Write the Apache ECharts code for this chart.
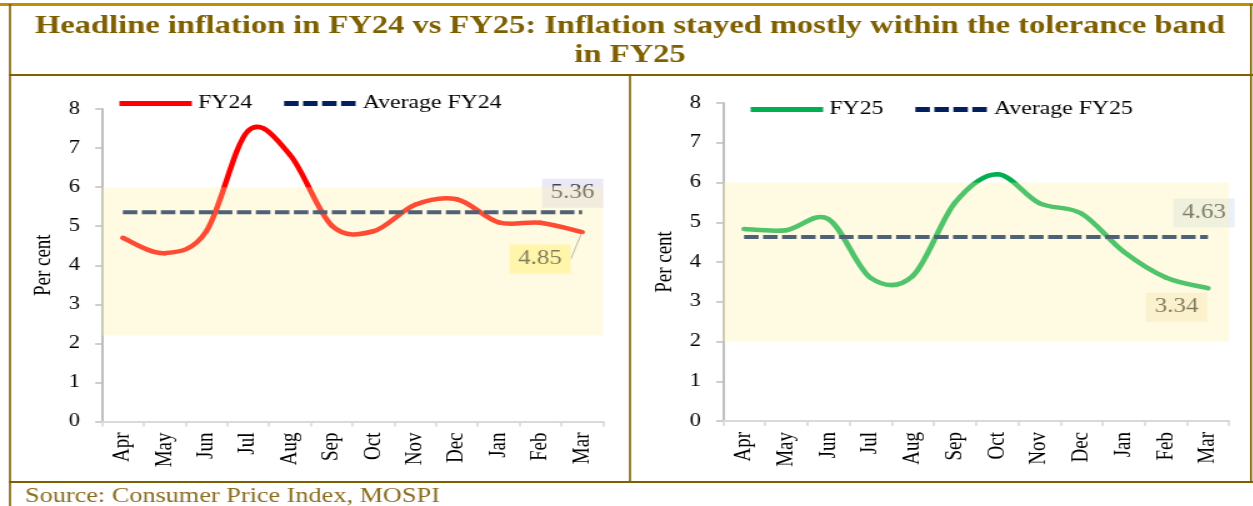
<!DOCTYPE html>
<html>
<head>
<meta charset="utf-8">
<script src="https://cdn.jsdelivr.net/npm/echarts@6.0.0/dist/echarts.min.js"></script>
<style>
  html, body { margin: 0; padding: 0; background: #fff; overflow: hidden; }
  /* the source picture is stretched sideways, so the chart is too */
  #chart { width: 1003px; height: 506px; transform: scaleX(1.25); transform-origin: 0 0; }
</style>
</head>
<body>
<div id="chart"></div>
<script>
const months = ['Apr', 'May', 'Jun', 'Jul', 'Aug', 'Sep', 'Oct', 'Nov', 'Dec', 'Jan', 'Feb', 'Mar'];
const fy24 = [4.70, 4.31, 4.87, 7.44, 6.83, 5.02, 4.87, 5.55, 5.69, 5.10, 5.09, 4.85];
const fy25 = [4.83, 4.80, 5.08, 3.60, 3.65, 5.49, 6.21, 5.48, 5.22, 4.26, 3.61, 3.34];
const avgFY24 = 5.36;
const avgFY25 = 4.63;
const bandFY24 = [2.2, 6];
const bandFY25 = [2, 6];
const yMin = 0, yMax = 8, yStep = 1;

const serif = '"Liberation Serif", "Times New Roman", serif';
const frame = '#7f6000';
const bandColor = 'rgba(255,242,164,0.31)';

const chart = echarts.init(document.getElementById('chart'));

// Excel-style smoothed line: bezier segments through the points, placed by api.coord
function smoothCurve(values, color) {
  return function (params, api) {
    if (params.dataIndex !== 0) return null;
    const n = values.length;
    const pts = values.map((v, k) => api.coord([k, v]));
    const segs = [];
    for (let k = 0; k < n - 1; k++) {
      const p0 = pts[Math.max(k - 1, 0)], p1 = pts[k], p2 = pts[k + 1], p3 = pts[Math.min(k + 2, n - 1)];
      segs.push({
        type: 'bezierCurve',
        shape: {
          x1: p1[0], y1: p1[1], x2: p2[0], y2: p2[1],
          cpx1: p1[0] + (p2[0] - p0[0]) / 6, cpy1: p1[1] + (p2[1] - p0[1]) / 6,
          cpx2: p2[0] - (p3[0] - p1[0]) / 6, cpy2: p2[1] - (p3[1] - p1[1]) / 6
        },
        style: { stroke: color, lineWidth: 4.5, fill: null, lineCap: 'round' }
      });
    }
    return { type: 'group', children: segs };
  };
}

function panel(i, name, values, avg, band, color, valLab, avgLab) {
  const last = months.length - 1;
  return [
    {
      // carries the legend entry and the band; the visible curve is the custom series
      name: name, type: 'line', xAxisIndex: i, yAxisIndex: i,
      data: values, symbol: 'none',
      lineStyle: { color: color, width: 4.5, opacity: 0 },
      itemStyle: { color: color },
      markArea: {
        silent: true, z: 10,
        itemStyle: { color: bandColor },
        data: [[{ yAxis: band[1] }, { yAxis: band[0] }]]
      }
    },
    {
      type: 'custom', xAxisIndex: i, yAxisIndex: i, silent: true,
      data: values.map((v, k) => [k, v]),
      renderItem: smoothCurve(values, color)
    },
    {
      name: 'Average ' + name, type: 'line', xAxisIndex: i, yAxisIndex: i,
      data: months.map(() => avg), symbol: 'none',
      lineStyle: { color: '#002060', width: 4, type: [11.6, 3.6] },
      itemStyle: { color: '#002060' }
    },
    {
      type: 'scatter', xAxisIndex: i, yAxisIndex: i, symbolSize: 0,
      data: [[months[last], avg]],
      label: {
        show: true, position: 'inside', formatter: avg.toFixed(2),
        fontFamily: serif, fontSize: 20, color: '#1a1a1a',
        backgroundColor: avgLab.bg, padding: [5, 7, 4, 7]
      },
      labelLayout: { dx: avgLab.dx, dy: avgLab.dy }
    },
    {
      type: 'scatter', xAxisIndex: i, yAxisIndex: i, symbolSize: 3,
      itemStyle: { color: color },
      data: [[months[last], values[last]]],
      label: {
        show: true, position: 'inside', formatter: values[last].toFixed(2),
        fontFamily: serif, fontSize: 20, color: '#1a1a1a',
        backgroundColor: valLab.bg, padding: [5, 7, 4, 7]
      },
      labelLayout: { dx: valLab.dx, dy: valLab.dy },
      labelLine: { show: valLab.leader, lineStyle: { color: '#a6a6a6', width: 1 } }
    }
  ];
}

function xAxis(i) {
  return {
    type: 'category', gridIndex: i, data: months, boundaryGap: true,
    axisLine: { lineStyle: { color: '#d9d9d9', width: 2 } },
    axisTick: { show: true, length: 5, lineStyle: { color: '#d9d9d9', width: 1.6 } },
    axisLabel: { interval: 0, rotate: 90, margin: 11, fontFamily: serif, fontSize: 19, color: '#000' },
    splitLine: { show: false }
  };
}

function yAxis(i) {
  return {
    type: 'value', gridIndex: i, min: yMin, max: yMax, interval: yStep,
    name: 'Per cent', nameLocation: 'middle', nameRotate: 90, nameGap: 37,
    nameTextStyle: { fontFamily: serif, fontSize: 19, color: '#000' },
    axisLine: { show: true, lineStyle: { color: '#bfbfbf', width: 2 } },
    axisTick: { show: true, length: 5.4, lineStyle: { color: '#bfbfbf', width: 1.5 } },
    axisLabel: { margin: 17.6, fontFamily: serif, fontSize: 18, color: '#000' },
    splitLine: { show: false }
  };
}

function legend(names, left, top) {
  return {
    data: names, left: left, top: top, orient: 'horizontal',
    itemWidth: 58, itemHeight: 14, itemGap: 23,
    textStyle: { fontFamily: serif, fontSize: 19, color: '#000' },
    lineStyle: { width: 5, opacity: 1 },
    itemStyle: { opacity: 0 },
    selectedMode: false
  };
}

function bar(x, y, w, h, fill) {
  return { type: 'rect', silent: true, shape: { x: x, y: y, width: w, height: h }, style: { fill: fill } };
}

const option = {
  animation: false,
  backgroundColor: '#fff',
  grid: [
    { left: 81.6, top: 109, width: 400.8, height: 312.5, outerBoundsMode: 'none' },
    { left: 578.4, top: 103, width: 404.8, height: 318, outerBoundsMode: 'none' }
  ],
  xAxis: [xAxis(0), xAxis(1)],
  yAxis: [yAxis(0), yAxis(1)],
  legend: [
    legend(['FY24', 'Average FY24'], 88, 89),
    legend(['FY25', 'Average FY25'], 593, 95)
  ],
  series: [].concat(
    panel(0, 'FY24', fy24, avgFY24, bandFY24, '#ff0000',
      { dx: -33.6, dy: 27, bg: '#fff59a', leader: true },
      { dx: -7.6, dy: -19, bg: '#e6e4f4' }),
    panel(1, 'FY25', fy25, avgFY25, bandFY25, '#00b050',
      { dx: -25, dy: 19, bg: '#f9eed6', leader: false },
      { dx: -3.2, dy: -24, bg: '#e5ecf8' })
  ),
  graphic: [
    bar(0, 3, 1003, 3, '#bf9000'),
    bar(7.2, 4, 1.6, 502, frame),
    bar(1000, 4, 1.6, 479, frame),
    bar(7.2, 74, 996, 2, frame),
    bar(503.2, 74, 1.6, 408, frame),
    bar(7.2, 481, 996, 2, frame),
    {
      type: 'text', x: 504, y: 12, silent: true,
      style: {
        text: 'Headline inflation in FY24 vs FY25: Inflation stayed mostly within the tolerance band\nin FY25',
        align: 'center', verticalAlign: 'top', lineHeight: 29,
        font: 'bold 26px "Liberation Serif", "Times New Roman", serif', fill: frame
      }
    },
    {
      type: 'text', x: 20, y: 496, silent: true,
      style: {
        text: 'Source: Consumer Price Index, MOSPI',
        align: 'left', verticalAlign: 'middle',
        font: '21px "Liberation Serif", "Times New Roman", serif', fill: '#8a6d1f'
      }
    }
  ]
};

chart.setOption(option);
</script>
</body>
</html>
